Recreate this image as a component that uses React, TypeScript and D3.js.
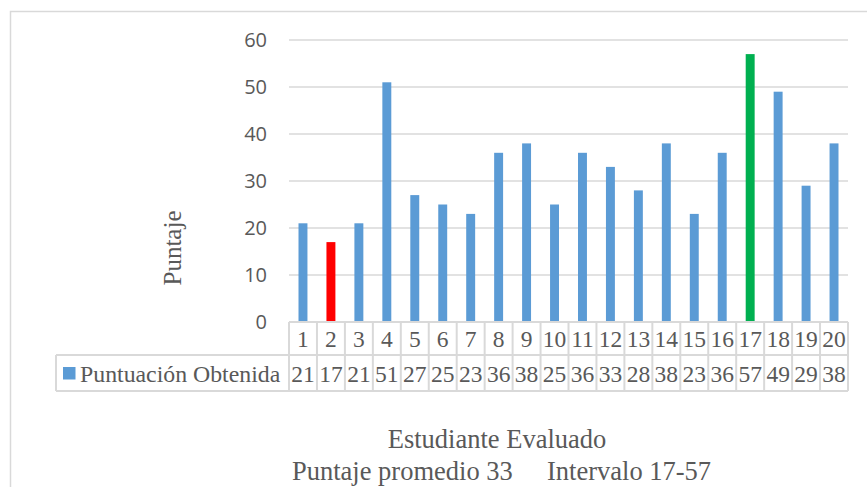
import React, { useEffect, useRef } from 'react';
import * as d3 from 'd3';

// data
const students = ['1', '2', '3', '4', '5', '6', '7', '8', '9', '10', '11', '12', '13', '14', '15', '16', '17', '18', '19', '20'];
const scores = [21, 17, 21, 51, 27, 25, 23, 36, 38, 25, 36, 33, 28, 38, 23, 36, 57, 49, 29, 38];
const yTicks = [0, 10, 20, 30, 40, 50, 60];
const seriesName = 'Puntuación Obtenida';
const xTitle = 'Estudiante Evaluado';
const yTitle = 'Puntaje';
const noteLeft = 'Puntaje promedio 33';
const noteRight = 'Intervalo 17-57';

const BLUE = '#5B9BD5';
const RED = '#FF0000';
const GREEN = '#00B050';
const GRID = '#D9D9D9';
const TEXT = '#595959';
const SERIF = '"Liberation Serif", "Times New Roman", serif';
const SANS = '"Open Sans", "DejaVu Sans", sans-serif';

const App = () => {
  const svgRef = useRef<SVGSVGElement>(null);

  useEffect(() => {
    const W = 867;
    const H = 487;
    const plot = { left: 289, right: 848, top: 40, bottom: 322 };
    const row1 = 355;
    const row2 = 391;
    const legendLeft = 56;

    d3.select(svgRef.current).selectAll('*').remove();
    const svg = d3.select(svgRef.current).attr('width', W).attr('height', H);

    // outer chart frame
    svg.append('rect')
      .attr('x', 10.5).attr('y', 11.5)
      .attr('width', 900).attr('height', 600)
      .attr('fill', 'white')
      .attr('stroke', GRID)
      .attr('stroke-width', 1.5);

    const x = d3.scaleBand()
      .domain(students)
      .range([plot.left, plot.right])
      .paddingInner(0.68)
      .paddingOuter(0.34);

    const cell = d3.scaleBand()
      .domain(students)
      .range([plot.left, plot.right]);

    const y = d3.scaleLinear()
      .domain([0, 60])
      .range([plot.bottom, plot.top]);

    // gridlines
    svg.append('g')
      .selectAll('line')
      .data(yTicks.filter(d => d > 0))
      .enter().append('line')
      .attr('x1', plot.left).attr('x2', plot.right)
      .attr('y1', d => y(d)).attr('y2', d => y(d))
      .attr('stroke', GRID)
      .attr('stroke-width', 1.5);

    // y tick labels
    svg.append('g')
      .selectAll('text')
      .data(yTicks)
      .enter().append('text')
      .attr('x', 267)
      .attr('y', d => y(d) + 7)
      .attr('text-anchor', 'end')
      .style('font-family', SANS)
      .style('font-size', '20px')
      .style('fill', TEXT)
      .text(d => d);

    // bars, lowest score red and highest green
    const minV = d3.min(scores) as number;
    const maxV = d3.max(scores) as number;
    svg.append('g')
      .selectAll('rect')
      .data(scores)
      .enter().append('rect')
      .attr('x', (d, i) => x(students[i]) as number)
      .attr('width', x.bandwidth())
      .attr('y', d => y(d))
      .attr('height', d => y(0) - y(d))
      .attr('fill', d => (d === minV ? RED : d === maxV ? GREEN : BLUE));

    // data table
    const table = svg.append('g')
      .attr('fill', 'none')
      .attr('stroke', GRID)
      .attr('stroke-width', 2);

    table.append('line')
      .attr('x1', plot.left).attr('x2', plot.right)
      .attr('y1', plot.bottom).attr('y2', plot.bottom);
    table.append('line')
      .attr('x1', legendLeft).attr('x2', plot.right)
      .attr('y1', row1).attr('y2', row1);
    table.append('line')
      .attr('x1', legendLeft).attr('x2', plot.right)
      .attr('y1', row2).attr('y2', row2);
    table.append('line')
      .attr('x1', legendLeft).attr('x2', legendLeft)
      .attr('y1', row1).attr('y2', row2);
    table.selectAll('.col')
      .data([...students, 'end'])
      .enter().append('line')
      .attr('class', 'col')
      .attr('x1', (d, i) => plot.left + i * cell.step())
      .attr('x2', (d, i) => plot.left + i * cell.step())
      .attr('y1', plot.bottom).attr('y2', row2);

    svg.append('g')
      .selectAll('text')
      .data(students)
      .enter().append('text')
      .attr('x', d => (cell(d) as number) + cell.bandwidth() / 2)
      .attr('y', 347)
      .attr('text-anchor', 'middle')
      .style('font-family', SERIF)
      .style('font-size', '23.5px')
      .style('fill', TEXT)
      .text(d => d);

    svg.append('g')
      .selectAll('text')
      .data(scores)
      .enter().append('text')
      .attr('x', (d, i) => (cell(students[i]) as number) + cell.bandwidth() / 2)
      .attr('y', 382)
      .attr('text-anchor', 'middle')
      .style('font-family', SERIF)
      .style('font-size', '23.5px')
      .style('fill', TEXT)
      .text(d => d);

    // legend key in table
    svg.append('rect')
      .attr('x', 63).attr('y', 367)
      .attr('width', 12.5).attr('height', 12.5)
      .attr('fill', BLUE);
    svg.append('text')
      .attr('x', 80)
      .attr('y', 382)
      .style('font-family', SERIF)
      .style('font-size', '23.8px')
      .style('fill', TEXT)
      .text(seriesName);

    // y axis title
    svg.append('text')
      .attr('transform', 'translate(181, 248) rotate(-90)')
      .attr('text-anchor', 'middle')
      .style('font-family', SERIF)
      .style('font-size', '25px')
      .style('fill', TEXT)
      .text(yTitle);

    // x axis title and note
    svg.append('text')
      .attr('x', 497)
      .attr('y', 448)
      .attr('text-anchor', 'middle')
      .style('font-family', SERIF)
      .style('font-size', '26.5px')
      .style('fill', TEXT)
      .text(xTitle);

    svg.append('text')
      .attr('x', 292)
      .attr('y', 480)
      .style('font-family', SERIF)
      .style('font-size', '26.5px')
      .style('fill', TEXT)
      .text(noteLeft);

    svg.append('text')
      .attr('x', 547)
      .attr('y', 480)
      .style('font-family', SERIF)
      .style('font-size', '26.5px')
      .style('fill', TEXT)
      .text(noteRight);
  }, []);

  return (
    <div style={{ position: 'absolute', left: 0, top: 0 }}>
      <svg ref={svgRef} style={{ display: 'block' }}></svg>
    </div>
  );
};

export default App;
